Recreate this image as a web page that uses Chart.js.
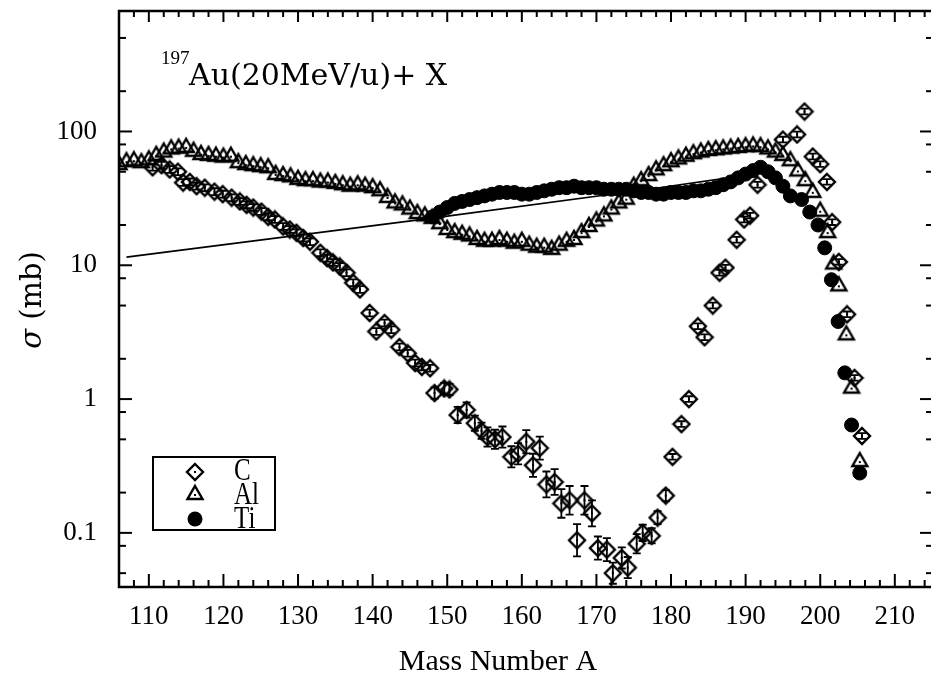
<!DOCTYPE html>
<html>
<head>
<meta charset="utf-8">
<script src="https://cdn.jsdelivr.net/npm/chart.js@4.4.1/dist/chart.umd.min.js"></script>
<style>
  html, body { margin: 0; padding: 0; background: #fff; }
  canvas { display: block; }
</style>
</head>
<body>
<canvas id="c" width="931" height="679"></canvas>
<script>
// ---------------- data ----------------
const xTickValues = [110, 120, 130, 140, 150, 160, 170, 180, 190, 200, 210];
const yTickValues = [0.1, 1, 10, 100];
const yTickLabels = ['0.1', '1', '10', '100'];
const yMinorFactors = [2, 5, 8];
const xMinorStep = 2;

// C target (diamonds)
const cMass = [110.5,111.7,112.8,113.9,114.6,115.5,116.4,117.5,118.8,119.9,121.1,122.2,123.1,124.0,125.1,126.0,126.9,128.0,128.9,129.8,
  130.7,131.6,133.0,133.9,134.7,135.6,136.5,137.4,138.3,139.6,140.5,141.6,142.5,143.6,144.7,145.7,146.6,147.7,148.3,149.6,
  150.3,151.4,152.6,153.7,154.6,155.4,156.4,157.4,158.6,159.5,160.6,161.5,162.4,163.3,164.4,165.3,166.4,167.4,168.4,169.4,
  170.2,171.4,172.2,173.4,174.2,175.4,176.2,177.4,178.2,179.3,180.2,181.4,182.4,183.6,184.5,185.6,186.5,187.3,188.8,189.8,
  190.6,191.6,195.0,196.9,197.9,199.0,200.0,200.9,201.6,202.5,203.6,204.6,205.6];
const cSigma = [54,56,52,50,41.5,42,39,38,35.5,34,32,30,28.3,27,25.2,23,22,19.5,18.5,17.5,
  16,15,12.4,11.3,10.5,9.8,8.8,7.4,6.6,4.4,3.2,3.7,3.3,2.45,2.2,1.86,1.74,1.7,1.11,1.2,
  1.18,0.76,0.83,0.66,0.58,0.52,0.5,0.52,0.37,0.39,0.48,0.32,0.43,0.23,0.24,0.166,0.175,0.088,0.175,0.14,
  0.077,0.075,0.05,0.065,0.055,0.083,0.1,0.095,0.13,0.19,0.37,0.65,1.0,3.5,2.9,5.0,8.8,9.6,15.5,22,
  23.5,40,87,95,141,65,57,42,21,10.6,4.3,1.44,0.53];
// relative error (percent)
const cErrPct = [6,6,6,6,6,6,6,6,6,6,6,6,6,6,6,6,6,6,6,6,
  6,6,6,6,6,6,6,6,6,6,6,6,6,6,6,6,6,6,10,10,
  10,15,14,14,15,18,18,20,20,20,22,22,22,25,25,28,28,32,28,25,
  22,22,20,20,20,18,15,14,12,10,5,5,5,5,5,5,5,5,5,5,
  5,5,5,5,5,5,5,5,5,5,5,5,5];

// Al target (triangles)
const alMass = [106,107,108,109,110,111,112,113,114,115,116,117,118,119,120,121,122,123,124,125,
  126,127,128,129,130,131,132,133,134,135,136,137,138,139,140,141,142,143,144,145,
  146,147,148,149,150,151,152,153,154,155,156,157,158,159,160,161,162,163,164,165,
  166,167,168,169,170,171,172,173,174,175,176,177,178,179,180,181,182,183,184,185,
  186,187,188,189,190,191,192,193,194,195,196,197,198,199,200,201,201.8,202.5,203.5,204.2,205.3];
const alSigma = [58,61,62,60,63,68,72,76,77,78,73,69,68,67,66,67,60,58,57,56,
  55,49,48,47,45,44,44,43,43,42,41,40,41,40,39,37,33,30,29,27,
  25,24,23,21,19,18,17.5,17,16,15.5,15.5,16,15.5,15,15.5,14.5,14,14,13.5,14.5,
  15.5,16,18,20,22,24,27,30,32,40,44,48,53,57,61,64,67,70,72,74,
  75,76,77,78,79,80,79,76,72,68,62,52,44,36,26,18,10.5,7.2,3.1,1.24,0.35];

// Ti target (filled circles)
const tiMass = [148,149,150,151,152,153,154,155,156,157,158,159,160,161,162,163,164,165,166,167,
  168,169,170,171,172,173,174,175,176,177,178,179,180,181,182,183,184,185,186,187,
  188,189,190,191,192,193,194,195,196,197.5,198.6,199.7,200.6,201.5,202.4,203.3,204.2,205.3];
const tiSigma = [23,25,27,29,30,31,32,33,34,35,35,35,34,34,35,36,37,38,38,39,
  38,38,38,37,37,37,37,36,35,35,34,34,35,35,35,36,36,37,38,40,
  42,45,48,51,54,50,45,39,33,31,25,20,13.5,7.8,3.8,1.57,0.64,0.28];

// straight solid line
const lineMass = [107, 148, 177, 190];
const lineSigma = [11.5, 22.5, 37, 47];

// ---------------- marker images ----------------
function diamondImg() {
  const c = document.createElement('canvas'); c.width = 20; c.height = 20;
  const g = c.getContext('2d');
  g.strokeStyle = '#000'; g.lineWidth = 2.4;
  g.beginPath(); g.moveTo(10, 2); g.lineTo(18, 10); g.lineTo(10, 18); g.lineTo(2, 10); g.closePath(); g.stroke();
  g.fillStyle = '#000'; g.fillRect(9, 9, 2, 2);
  return c;
}
function triangleImg() {
  const c = document.createElement('canvas'); c.width = 20; c.height = 20;
  const g = c.getContext('2d');
  g.strokeStyle = '#000'; g.lineWidth = 2.4;
  g.beginPath(); g.moveTo(10, 3); g.lineTo(17.5, 16); g.lineTo(2.5, 16); g.closePath(); g.stroke();
  g.fillStyle = '#000'; g.fillRect(9, 11, 2, 2);
  return c;
}
const DIA = diamondImg();
const TRI = triangleImg();

const pts = (xs, ys) => xs.map((x, i) => ({ x: x, y: ys[i] }));

// ---------------- plugins ----------------
const errorBars = {
  id: 'errorBars',
  afterDatasetsDraw(chart) {
    const { ctx, chartArea: a, scales: { x, y } } = chart;
    ctx.save();
    ctx.beginPath(); ctx.rect(a.left, a.top, a.right - a.left, a.bottom - a.top); ctx.clip();
    ctx.strokeStyle = '#000'; ctx.lineWidth = 1.8;
    cMass.forEach((m, i) => {
      const f = 1 + cErrPct[i] / 100;
      const px = x.getPixelForValue(m);
      const pLo = y.getPixelForValue(cSigma[i] / f);
      const pHi = y.getPixelForValue(cSigma[i] * f);
      ctx.beginPath();
      ctx.moveTo(px, pLo); ctx.lineTo(px, pHi);
      ctx.moveTo(px - 4, pLo); ctx.lineTo(px + 4, pLo);
      ctx.moveTo(px - 4, pHi); ctx.lineTo(px + 4, pHi);
      ctx.stroke();
    });
    ctx.restore();
  }
};

const decor = {
  id: 'decor',
  afterDraw(chart) {
    const { ctx, chartArea: a, scales: { x, y } } = chart;
    ctx.save();
    ctx.strokeStyle = '#000'; ctx.fillStyle = '#000';
    const line = (x1, y1, x2, y2) => { ctx.beginPath(); ctx.moveTo(x1, y1); ctx.lineTo(x2, y2); ctx.stroke(); };
    // frame
    ctx.lineWidth = 2.5;
    ctx.beginPath();
    ctx.moveTo(a.right + 3, a.top); ctx.lineTo(a.left, a.top); ctx.lineTo(a.left, a.bottom); ctx.lineTo(a.right + 3, a.bottom);
    ctx.stroke();
    // x ticks (inward, bottom and top)
    ctx.lineWidth = 2;
    const start = Math.ceil(x.min / xMinorStep) * xMinorStep;
    for (let v = start; v <= x.max + 1e-9; v += xMinorStep) {
      const px = x.getPixelForValue(v);
      const major = xTickValues.includes(v);
      line(px, a.bottom, px, a.bottom - (major ? 13 : 7));
      line(px, a.top, px, a.top + (major ? 11 : 6));
    }
    // y ticks (inward, left and right)
    for (let d = -2; d <= 3; d++) {
      const base = Math.pow(10, d);
      [1].concat(yMinorFactors).forEach(f => {
        const v = base * f;
        if (v < y.min || v > y.max) return;
        const py = y.getPixelForValue(v);
        const major = f === 1;
        line(a.left, py, a.left + (major ? 13 : 7), py);
        line(a.right, py, a.right - (major ? 11 : 5), py);
      });
    }
    // annotation: 197Au(20MeV/u)+ X
    ctx.textBaseline = 'alphabetic'; ctx.textAlign = 'left';
    ctx.font = '19px "Liberation Serif"';
    ctx.fillText('197', 161, 64);
    ctx.font = '30px "DejaVu Serif"';
    ctx.fillText('Au(20MeV/u)+ X', 189, 85);
    // legend box
    ctx.lineWidth = 2;
    ctx.strokeRect(153, 457, 122, 73);
    ctx.drawImage(DIA, 195 - 10, 472 - 10);
    ctx.drawImage(TRI, 195 - 10, 493 - 10);
    ctx.beginPath(); ctx.arc(195, 519, 7.5, 0, Math.PI * 2); ctx.fill();
    const legendText = [['C', 480], ['Al', 504], ['Ti', 528]];
    ctx.font = '25px "Liberation Serif"';
    legendText.forEach(([t, by]) => {
      ctx.save(); ctx.translate(234, by); ctx.scale(1, 1.3); ctx.fillText(t, 0, 0); ctx.restore();
    });
    // x-axis title
    ctx.font = '30px "Liberation Serif"'; ctx.textAlign = 'center';
    ctx.fillText('Mass Number A', 498, 670);
    // y-axis title (rotated)
    ctx.save();
    ctx.translate(41, 300); ctx.rotate(-Math.PI / 2);
    ctx.textAlign = 'left';
    ctx.font = 'italic 29px "DejaVu Serif"';
    const w1 = ctx.measureText('σ').width;
    ctx.font = '29px "DejaVu Serif"';
    const w2 = ctx.measureText(' (mb)').width;
    const x0 = -(w1 + w2) / 2;
    ctx.font = 'italic 29px "DejaVu Serif"';
    ctx.fillText('σ', x0, 0);
    ctx.font = '29px "DejaVu Serif"';
    ctx.fillText(' (mb)', x0 + w1, 0);
    ctx.restore();
    ctx.restore();
  }
};

// ---------------- chart ----------------
new Chart(document.getElementById('c'), {
  type: 'scatter',
  data: {
    datasets: [
      { label: 'C', data: pts(cMass, cSigma), pointStyle: DIA, pointRadius: 9, showLine: false },
      { label: 'Al', data: pts(alMass, alSigma), pointStyle: TRI, pointRadius: 9, showLine: false },
      { label: 'Ti', data: pts(tiMass, tiSigma), pointStyle: 'circle', pointRadius: 7, borderWidth: 1,
        backgroundColor: '#000', borderColor: '#000', showLine: false },
      { type: 'line', label: 'line', data: pts(lineMass, lineSigma), borderColor: '#000', borderWidth: 1.6,
        pointRadius: 0, fill: false, tension: 0 }
    ]
  },
  options: {
    responsive: false,
    animation: false,
    devicePixelRatio: 1,
    layout: { autoPadding: false, padding: { top: 11, right: 0, bottom: 0, left: 0 } },
    plugins: { legend: { display: false }, tooltip: { enabled: false } },
    scales: {
      x: {
        type: 'linear', min: 106, max: 214.85,
        afterBuildTicks: s => { s.ticks = xTickValues.map(v => ({ value: v })); },
        afterFit: s => { s.height = 92; s.paddingLeft = 0; s.paddingRight = 0; },
        grid: { display: false }, border: { display: false },
        ticks: { font: { family: 'Liberation Serif', size: 27 }, color: '#000', padding: 6,
          maxRotation: 0, autoSkip: false, callback: v => String(v) }
      },
      y: {
        type: 'logarithmic', min: 0.0394, max: 795,
        afterBuildTicks: s => { s.ticks = yTickValues.map(v => ({ value: v })); },
        afterFit: s => { s.width = 119; s.paddingTop = 0; s.paddingBottom = 0; },
        grid: { display: false }, border: { display: false },
        ticks: { font: { family: 'Liberation Serif', size: 27 }, color: '#000', padding: 14,
          autoSkip: false, callback: (v, i) => yTickLabels[i] }
      }
    }
  },
  plugins: [errorBars, decor]
});
</script>
</body>
</html>
